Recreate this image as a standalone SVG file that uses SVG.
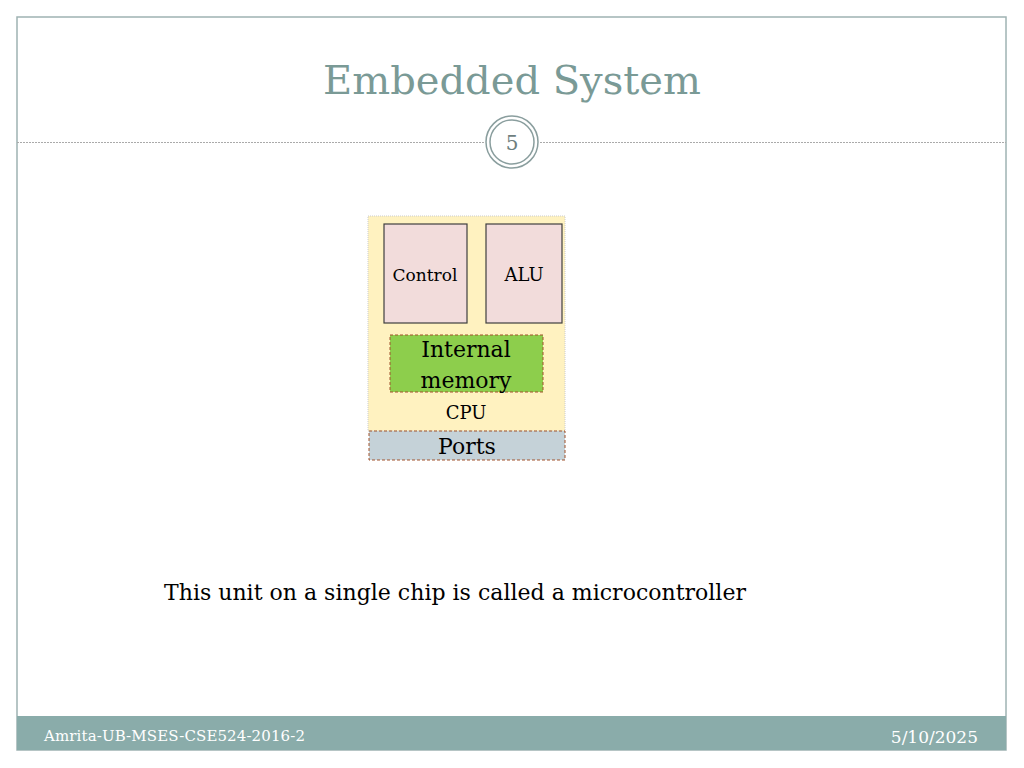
<svg xmlns="http://www.w3.org/2000/svg" width="1024" height="768" viewBox="0 0 1024 768">
<style>
.serif{font-family:"DejaVu Serif",serif;}
.box{fill:#f2dcdb;stroke:#3f3f3f;stroke-width:1.2}
.dash{stroke:#a0522d;stroke-width:1;stroke-dasharray:3,2}
</style>
<rect width="1024" height="768" fill="#fff"/>
<rect x="17" y="17" width="989" height="733" fill="none" stroke="#9fb3b3" stroke-width="1.5"/>
<text x="512" y="94" text-anchor="middle" class="serif" font-size="40" fill="#7a9a96">Embedded System</text>
<line x1="17" y1="142.5" x2="484" y2="142.5" stroke="#aaa" stroke-dasharray="2,1"/>
<line x1="540" y1="142.5" x2="1006" y2="142.5" stroke="#aaa" stroke-dasharray="2,1"/>
<circle cx="512" cy="142" r="26" fill="#fff" stroke="#8a9e9e" stroke-width="1.5"/>
<circle cx="512" cy="142" r="22" fill="none" stroke="#8a9e9e" stroke-width="1.5"/>
<text x="512" y="150" text-anchor="middle" class="serif" font-size="20" fill="#6e7e7e">5</text>
<g id="cpu">
<rect x="368" y="216" width="197" height="215" fill="#fff2c0" stroke="#ccc" stroke-dasharray="1,1"/>
<text x="466" y="419" text-anchor="middle" class="serif" font-size="18">CPU</text>
</g>
<g id="control">
<rect class="box" x="384" y="224" width="83" height="99"/>
<text x="425" y="281" text-anchor="middle" class="serif" font-size="17">Control</text>
</g>
<g id="alu">
<rect class="box" x="486" y="224" width="76" height="99"/>
<text x="524" y="281" text-anchor="middle" class="serif" font-size="18">ALU</text>
</g>
<g id="memory">
<rect class="dash" x="390" y="335" width="153" height="57" fill="#8dce4c"/>
<text x="466" y="357" text-anchor="middle" class="serif" font-size="22">Internal</text>
<text x="466" y="388" text-anchor="middle" class="serif" font-size="22">memory</text>
</g>
<g id="ports">
<rect class="dash" x="369" y="431" width="196" height="29" fill="#c5d2d8"/>
<text x="467" y="454" text-anchor="middle" class="serif" font-size="22">Ports</text>
</g>
<g id="connectors"/>
<text x="164" y="600" class="serif" font-size="22" textLength="582">This unit on a single chip is called a microcontroller</text>
<rect x="17" y="716" width="989" height="34" fill="#8aacaa"/>
<text x="44" y="741" class="serif" font-size="15" textLength="261" fill="#fff">Amrita-UB-MSES-CSE524-2016-2</text>
<text x="978" y="743" text-anchor="end" class="serif" font-size="17" fill="#fff">5/10/2025</text>
</svg>
